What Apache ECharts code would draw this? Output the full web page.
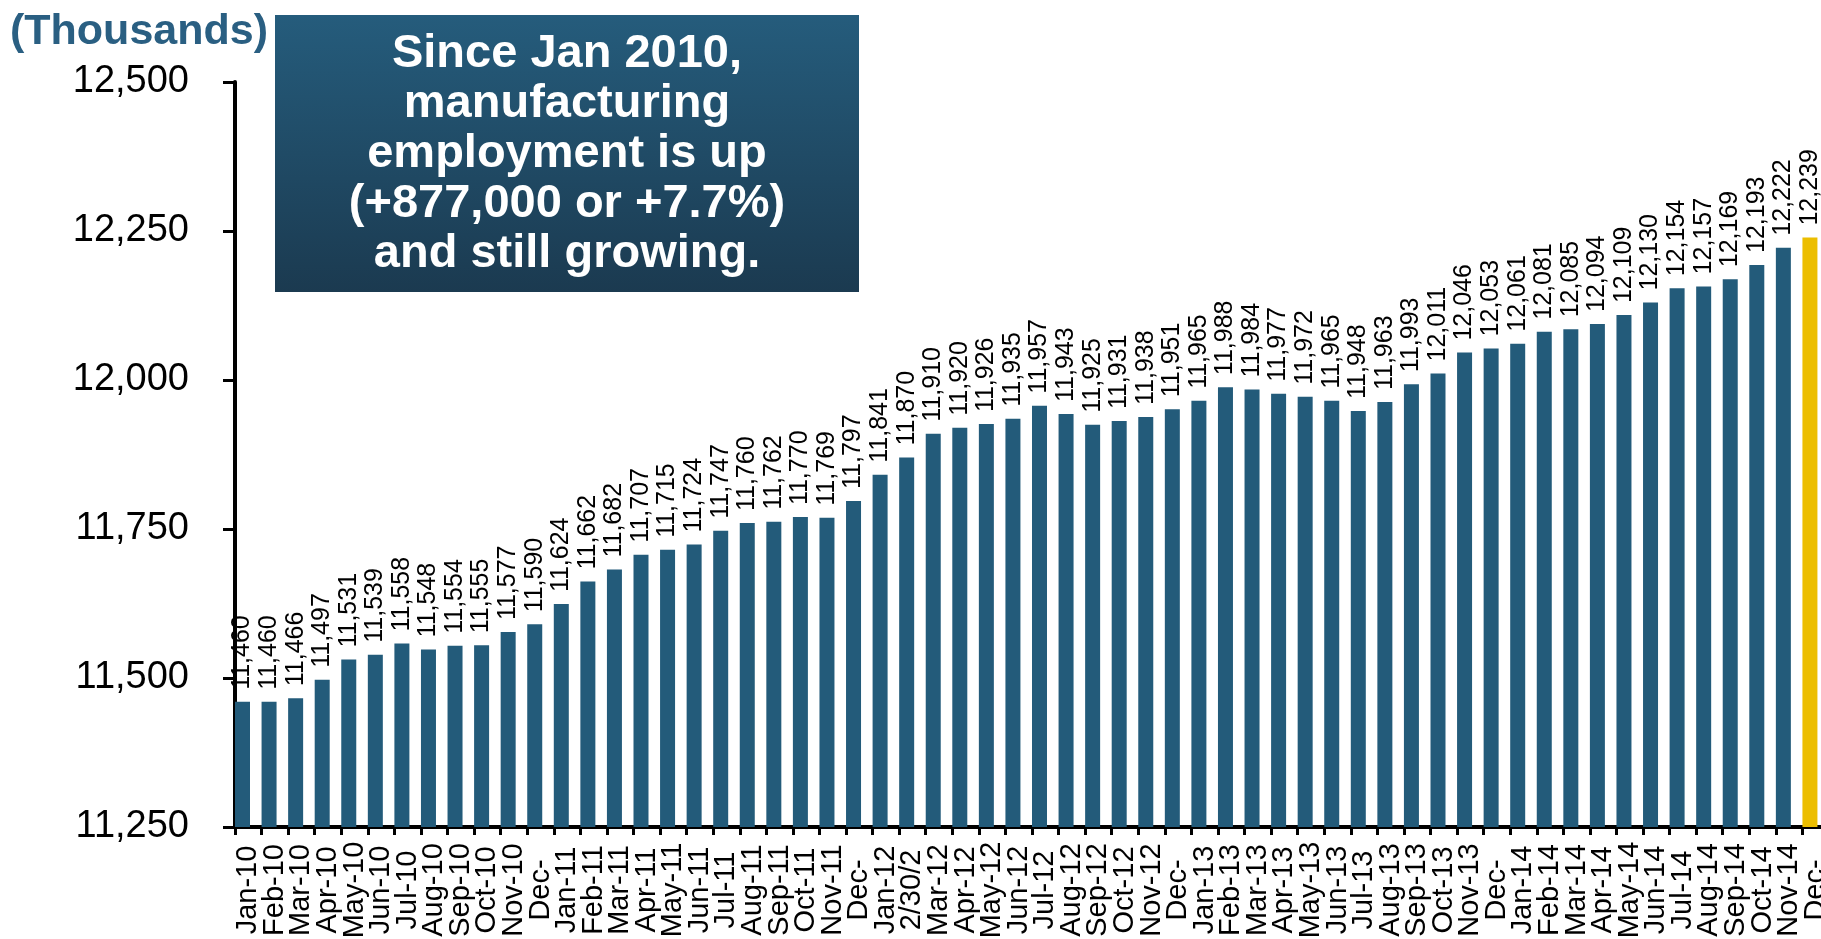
<!DOCTYPE html>
<html>
<head>
<meta charset="utf-8">
<script src="https://cdn.jsdelivr.net/npm/echarts@6/dist/echarts.min.js"></script>
<style>
  html, body { margin: 0; padding: 0; background: #fff; }
  #chart { width: 1821px; height: 939px; }
</style>
</head>
<body>
<div id="chart"></div>
<script>
// month labels as printed under the bars (Excel cut some of them)
const categories = [
  'Jan-10', 'Feb-10', 'Mar-10', 'Apr-10', 'May-10', 'Jun-10', 'Jul-10', 'Aug-10', 'Sep-10', 'Oct-10', 'Nov-10', 'Dec-',
  'Jan-11', 'Feb-11', 'Mar-11', 'Apr-11', 'May-11', 'Jun-11', 'Jul-11', 'Aug-11', 'Sep-11', 'Oct-11', 'Nov-11', 'Dec-',
  'Jan-12', '2/30/2', 'Mar-12', 'Apr-12', 'May-12', 'Jun-12', 'Jul-12', 'Aug-12', 'Sep-12', 'Oct-12', 'Nov-12', 'Dec-',
  'Jan-13', 'Feb-13', 'Mar-13', 'Apr-13', 'May-13', 'Jun-13', 'Jul-13', 'Aug-13', 'Sep-13', 'Oct-13', 'Nov-13', 'Dec-',
  'Jan-14', 'Feb-14', 'Mar-14', 'Apr-14', 'May-14', 'Jun-14', 'Jul-14', 'Aug-14', 'Sep-14', 'Oct-14', 'Nov-14', 'Dec-'
]
// manufacturing employment, thousands
const employment = [
  11460, 11460, 11466, 11497, 11531, 11539, 11558, 11548, 11554, 11555, 11577, 11590,
  11624, 11662, 11682, 11707, 11715, 11724, 11747, 11760, 11762, 11770, 11769, 11797,
  11841, 11870, 11910, 11920, 11926, 11935, 11957, 11943, 11925, 11931, 11938, 11951,
  11965, 11988, 11984, 11977, 11972, 11965, 11948, 11963, 11993, 12011, 12046, 12053,
  12061, 12081, 12085, 12094, 12109, 12130, 12154, 12157, 12169, 12193, 12222, 12239
]
const yMin = 11250
const yMax = 12500
const yStep = 250
const noteLines = [
  'Since Jan 2010,',
  'manufacturing',
  'employment is up',
  '(+877,000 or +7.7%)',
  'and still growing.'
]

const blue = '#235b7a'
const yellow = '#ecbe00'
const font = '"Liberation Sans", Arial, sans-serif'
const fmt = (v) => Number(v).toLocaleString('en-US')

const chart = echarts.init(document.getElementById('chart'))

// last month is highlighted in yellow
const barData = employment.map((v, i) =>
  i === employment.length - 1 ? { value: v, itemStyle: { color: yellow } } : v
)

const option = {
  animation: false,
  backgroundColor: '#fff',
  textStyle: { fontFamily: font },
  // chart is cropped on the right and bottom, labels are allowed to run off the page
  grid: { left: 235, top: 82, width: 1594, height: 745, outerBoundsMode: 'none', containLabel: false },
  xAxis: {
    type: 'category',
    data: categories,
    boundaryGap: true,
    axisLine: { lineStyle: { color: '#000', width: 4 } },
    axisTick: { show: true, length: 8, lineStyle: { color: '#000', width: 3 } },
    axisLabel: {
      interval: 0,
      rotate: 90,
      align: 'center',
      verticalAlign: 'middle',
      margin: 63,
      fontSize: 29,
      color: '#000',
      fontFamily: font
    }
  },
  yAxis: {
    type: 'value',
    min: yMin,
    max: yMax,
    interval: yStep,
    axisLine: { show: true, lineStyle: { color: '#000', width: 4 } },
    axisTick: { show: true, length: 12, lineStyle: { color: '#000', width: 3 } },
    splitLine: { show: false },
    axisLabel: {
      margin: 46,
      fontSize: 38,
      color: '#000',
      fontFamily: font,
      formatter: fmt
    }
  },
  series: [
    {
      name: 'Employment',
      type: 'bar',
      data: barData,
      barWidth: 15,
      barGap: '0%',
      barCategoryGap: '0%',
      itemStyle: { color: blue },
      label: {
        show: true,
        position: 'top',
        rotate: 90,
        align: 'left',
        verticalAlign: 'middle',
        distance: 12,
        fontSize: 25,
        color: '#000',
        fontFamily: font,
        formatter: (p) => fmt(p.value)
      }
    },
    {
      // empty companion series, keeps the bars in the left part of each slot
      name: 'spacer',
      type: 'bar',
      data: categories.map(() => null),
      barWidth: 11.57,
      barGap: '0%',
      barCategoryGap: '0%',
      itemStyle: { color: 'rgba(0,0,0,0)' },
      silent: true
    }
  ],
  graphic: [
    {
      type: 'text',
      left: 10,
      top: 11,
      style: {
        text: '(Thousands)',
        fill: '#2a5f82',
        font: 'bold 43px ' + font
      }
    },
    {
      type: 'group',
      left: 275,
      top: 15,
      children: [
        {
          type: 'rect',
          shape: { x: 0, y: 0, width: 584, height: 277 },
          style: {
            fill: new echarts.graphic.LinearGradient(0, 0, 0, 1, [
              { offset: 0, color: '#255c7c' },
              { offset: 1, color: '#1b3a50' }
            ])
          }
        },
        {
          type: 'text',
          x: 292,
          y: 139,
          style: {
            text: noteLines.join('\n'),
            fill: '#fff',
            font: 'bold 47px ' + font,
            lineHeight: 50,
            align: 'center',
            verticalAlign: 'middle'
          }
        }
      ]
    }
  ]
}

chart.setOption(option)
</script>
</body>
</html>
